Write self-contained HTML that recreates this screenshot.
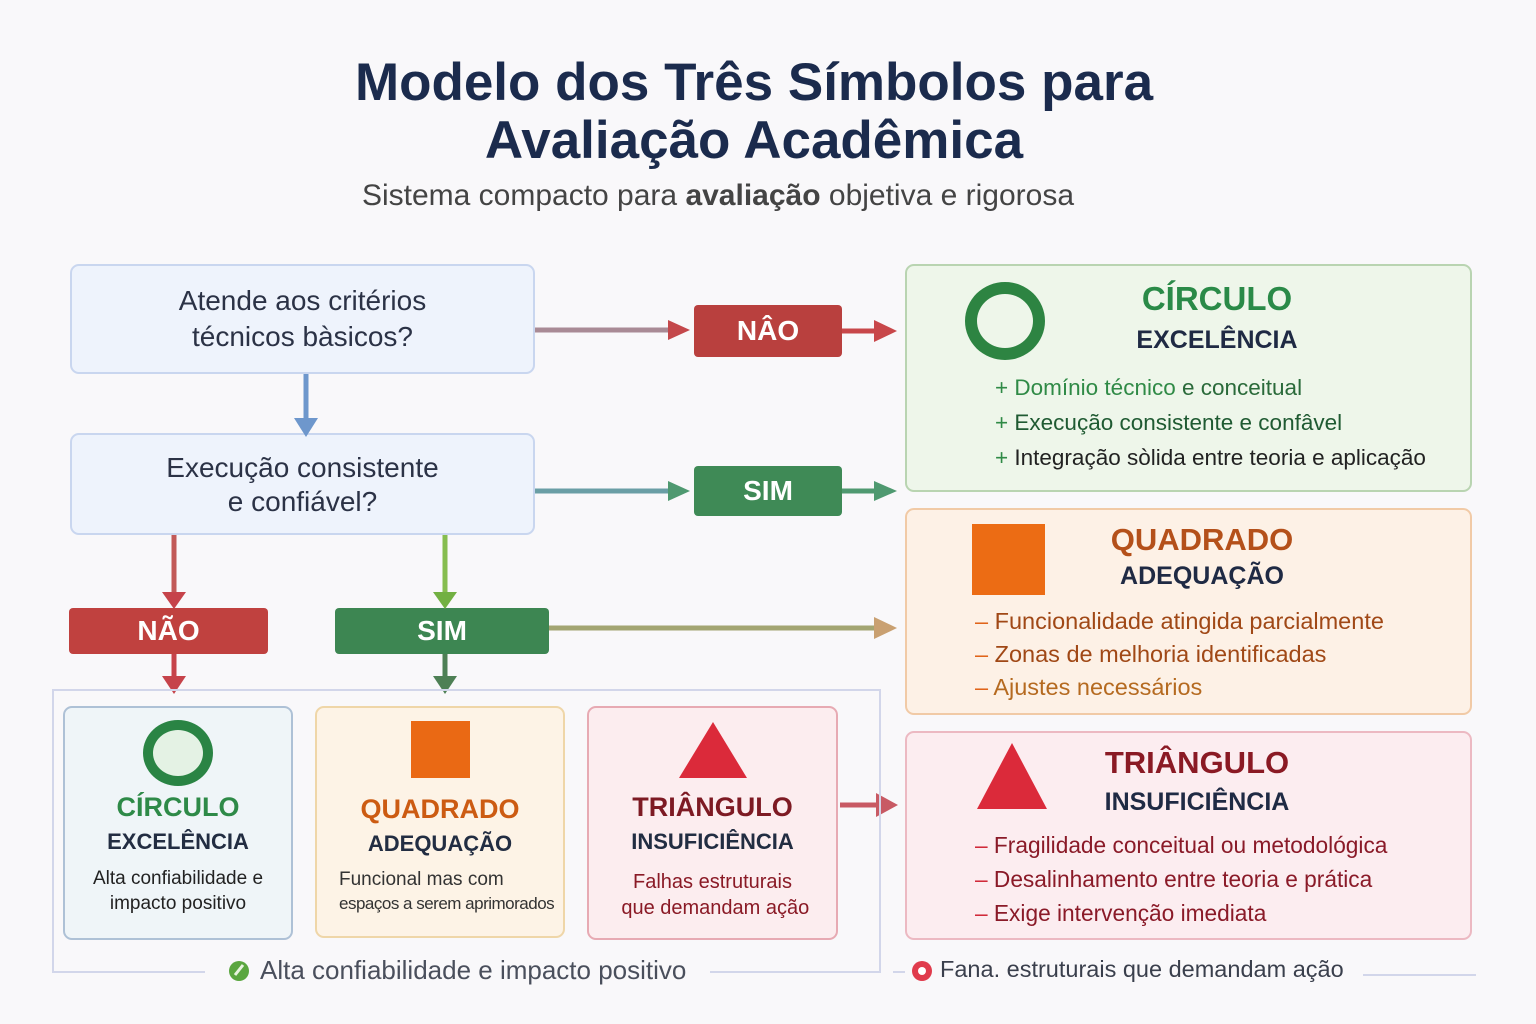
<!DOCTYPE html>
<html><head><meta charset="utf-8">
<style>
*{margin:0;padding:0;box-sizing:border-box}
body{width:1536px;height:1024px;background:#f9f8fa;font-family:"Liberation Sans","DejaVu Sans",sans-serif;position:relative;overflow:hidden}
.a{position:absolute}
.t{position:absolute;left:0;width:1508px;text-align:center;font-weight:bold;color:#1b2b4d;font-size:53px;letter-spacing:0px}
.box{position:absolute;border-radius:9px;border:2px solid}
.c{text-align:center}
.badge{position:absolute;color:#fff;font-weight:bold;font-size:28px;display:flex;align-items:center;justify-content:center;border-radius:4px}
.q{background:#eef3fc;border-color:#c9d6ef;color:#2b3246;font-size:28px;text-align:center;line-height:36px}
</style></head><body>
<div class="t" style="top:52px">Modelo dos Três Símbolos para</div>
<div class="t" style="top:110px">Avaliação Acadêmica</div>
<div class="a" style="top:179px;left:0;width:1436px;text-align:center;font-size:30px;color:#444">Sistema compacto para <b>avaliação</b> objetiva e rigorosa</div>

<div class="box q" style="left:70px;top:264px;width:465px;height:110px;padding-top:17px">Atende aos critérios<br>técnicos bàsicos?</div>
<div class="box q" style="left:70px;top:433px;width:465px;height:102px;padding-top:16px;line-height:34px">Execução consistente<br>e confiável?</div>

<div class="badge" style="left:694px;top:305px;width:148px;height:52px;background:#b9403e">NÂO</div>
<div class="badge" style="left:694px;top:466px;width:148px;height:50px;background:#3f8a56">SIM</div>
<div class="badge" style="left:69px;top:608px;width:199px;height:46px;background:#c0413f">NÃO</div>
<div class="badge" style="left:335px;top:608px;width:214px;height:46px;background:#3d8652">SIM</div>

<svg class="a" style="left:0;top:0" width="1536" height="1024">
<g stroke-width="5" fill="none">
<line x1="535" y1="330" x2="670" y2="330" stroke="#a98a95"/>
<polygon points="668,320 690,330 668,340" fill="#c4484b" stroke="none"/>
<line x1="842" y1="331" x2="877" y2="331" stroke="#c8474a"/>
<polygon points="874,320 897,331 874,342" fill="#c8474a" stroke="none"/>
<line x1="535" y1="491" x2="670" y2="491" stroke="#6a9ea5"/>
<polygon points="668,481 690,491 668,501" fill="#4f9970" stroke="none"/>
<line x1="842" y1="491" x2="877" y2="491" stroke="#4f9970"/>
<polygon points="874,481 897,491 874,501" fill="#4f9970" stroke="none"/>
<line x1="306" y1="374" x2="306" y2="420" stroke="#6e97cc"/>
<polygon points="294,418 318,418 306,437" fill="#6e97cc" stroke="none"/>
<line x1="174" y1="535" x2="174" y2="594" stroke="#c25a58"/>
<polygon points="162,592 186,592 174,609" fill="#c6434a" stroke="none"/>
<line x1="445" y1="535" x2="445" y2="594" stroke="#86bd4f"/>
<polygon points="433,592 457,592 445,609" fill="#72b042" stroke="none"/>
<line x1="174" y1="654" x2="174" y2="678" stroke="#c6434a"/>
<polygon points="162,676 186,676 174,694" fill="#c6434a" stroke="none"/>
<line x1="445" y1="654" x2="445" y2="678" stroke="#4e8055"/>
<polygon points="433,676 457,676 445,694" fill="#4e8055" stroke="none"/>
<line x1="549" y1="628" x2="877" y2="628" stroke="#a3a572"/>
<polygon points="874,617 897,628 874,639" fill="#c9a071" stroke="none"/>
<line x1="840" y1="805" x2="877" y2="805" stroke="#c85a64"/>
<polygon points="876,793 898,805 876,817" fill="#c85a64" stroke="none"/>
</g>
<path d="M205,972 L53,972 L53,690 L880,690 L880,972 L710,972" fill="none" stroke="#d2d6ea" stroke-width="2"/>
<line x1="893" y1="972" x2="905" y2="972" stroke="#d2d6ea" stroke-width="2"/>
<line x1="1363" y1="975" x2="1476" y2="975" stroke="#d2d6ea" stroke-width="2"/>
<circle cx="239" cy="971" r="10" fill="#5aa63f"/><path d="M235,975 L243,965" stroke="#e8f4df" stroke-width="3"/>
<circle cx="922" cy="971" r="10" fill="#e03b4c"/><circle cx="922" cy="971" r="4" fill="#fff"/>
</svg>

<!-- bottom cards -->
<div class="box c" style="left:63px;top:706px;width:230px;height:234px;background:#eff5f8;border-color:#aec1d6">
 <div style="margin:12px auto 0;width:70px;height:66px;border:10px solid #2a8444;border-radius:50%;background:#e4f2e4"></div>
 <div style="font-size:27px;font-weight:bold;color:#2e8a48;margin-top:6px">CÍRCULO</div>
 <div style="font-size:22px;font-weight:bold;color:#222d42;margin-top:6px">EXCELÊNCIA</div>
 <div style="font-size:19px;color:#222;margin-top:11px;line-height:25px">Alta confiabilidade e<br>impacto positivo</div>
</div>
<div class="box c" style="left:315px;top:706px;width:250px;height:232px;background:#fdf3e6;border-color:#efd6a8">
 <div style="margin:13px auto 0;width:59px;height:57px;background:#ea6914"></div>
 <div style="font-size:27px;font-weight:bold;color:#cc5b12;margin-top:16px">QUADRADO</div>
 <div style="font-size:22px;font-weight:bold;color:#222d42;margin-top:6px">ADEQUAÇÃO</div>
 <div style="font-size:19px;color:#333;margin-top:11px;line-height:24px;text-align:left;padding-left:22px">Funcional mas com<br><span style="font-size:17px;letter-spacing:-0.5px">espaços a serem aprimorados</span></div>
</div>
<div class="box c" style="left:587px;top:706px;width:251px;height:234px;background:#fcedef;border-color:#e7aab3">
 <svg width="70" height="58" style="display:block;margin:14px auto 0"><polygon points="35,0 69,56 1,56" fill="#db2a3a"/></svg>
 <div style="font-size:27px;font-weight:bold;color:#7d1a23;margin-top:12px">TRIÂNGULO</div>
 <div style="font-size:22px;font-weight:bold;color:#222d42;margin-top:6px">INSUFICIÊNCIA</div>
 <div style="font-size:20px;color:#8a1a26;margin-top:14px;line-height:26px">Falhas estruturais<br>&nbsp;que demandam ação</div>
</div>

<!-- right cards -->
<div class="box" style="left:905px;top:264px;width:567px;height:228px;background:#eef6ea;border-color:#b9d4b1">
 <div class="a" style="left:58px;top:16px;width:80px;height:78px;border:12px solid #2d8442;border-radius:50%"></div>
 <div class="a c" style="left:210px;top:14px;width:200px;font-size:33px;font-weight:bold;color:#2a8a48">CÍRCULO</div>
 <div class="a c" style="left:210px;top:60px;width:200px;font-size:25px;font-weight:bold;color:#1f2a44">EXCELÊNCIA</div>
 <div class="a" style="left:88px;top:104px;font-size:22.5px;line-height:35px;color:#222">
  <span style="color:#2f8a46">+ Domínio técnico</span> <span style="color:#2a6a3a">e conceitual</span><br>
  <span style="color:#2f8a46">+</span> <span style="color:#1f5a32">Execução consistente e confâvel</span><br>
  <span style="color:#2f8a46">+</span> Integração sòlida entre teoria e aplicação</div>
</div>
<div class="box" style="left:905px;top:508px;width:567px;height:207px;background:#fdf1e6;border-color:#f1caa6">
 <div class="a" style="left:65px;top:14px;width:73px;height:71px;background:#ec6c14"></div>
 <div class="a c" style="left:180px;top:12px;width:230px;font-size:31px;font-weight:bold;color:#b4501a">QUADRADO</div>
 <div class="a c" style="left:180px;top:52px;width:230px;font-size:25px;font-weight:bold;color:#1f2a44">ADEQUAÇÃO</div>
 <div class="a" style="left:68px;top:95px;font-size:23.5px;line-height:33px;color:#a04816">
  <span style="color:#e0641a">–</span> Funcionalidade atingida parcialmente<br>
  <span style="color:#e0641a">–</span> Zonas de melhoria identificadas<br>
  <span style="color:#e0641a">–</span> <span style="color:#b56a20">Ajustes necessários</span></div>
</div>
<div class="box" style="left:905px;top:731px;width:567px;height:209px;background:#fcedf0;border-color:#ecb9c2">
 <svg class="a" style="left:68px;top:10px" width="74" height="68"><polygon points="37,0 72,66 2,66" fill="#db2a3a"/></svg>
 <div class="a c" style="left:170px;top:12px;width:240px;font-size:31px;font-weight:bold;color:#8a1a24">TRIÂNGULO</div>
 <div class="a c" style="left:170px;top:55px;width:240px;font-size:25px;font-weight:bold;color:#1f2a44">INSUFICIÊNCIA</div>
 <div class="a" style="left:68px;top:95px;font-size:22.7px;line-height:34px;color:#8a1a28">
  <span style="color:#d02a3a">–</span> Fragilidade conceitual ou metodológica<br>
  <span style="color:#d02a3a">–</span> Desalinhamento entre teoria e prática<br>
  <span style="color:#d02a3a">–</span> Exige intervenção imediata</div>
</div>

<div class="a" style="left:260px;top:955px;font-size:26px;color:#4a4f5c">Alta confiabilidade e impacto positivo</div>
<div class="a" style="left:940px;top:956px;font-size:23.5px;color:#3a3f4c">Fana. estruturais que demandam ação</div>
</body></html>
